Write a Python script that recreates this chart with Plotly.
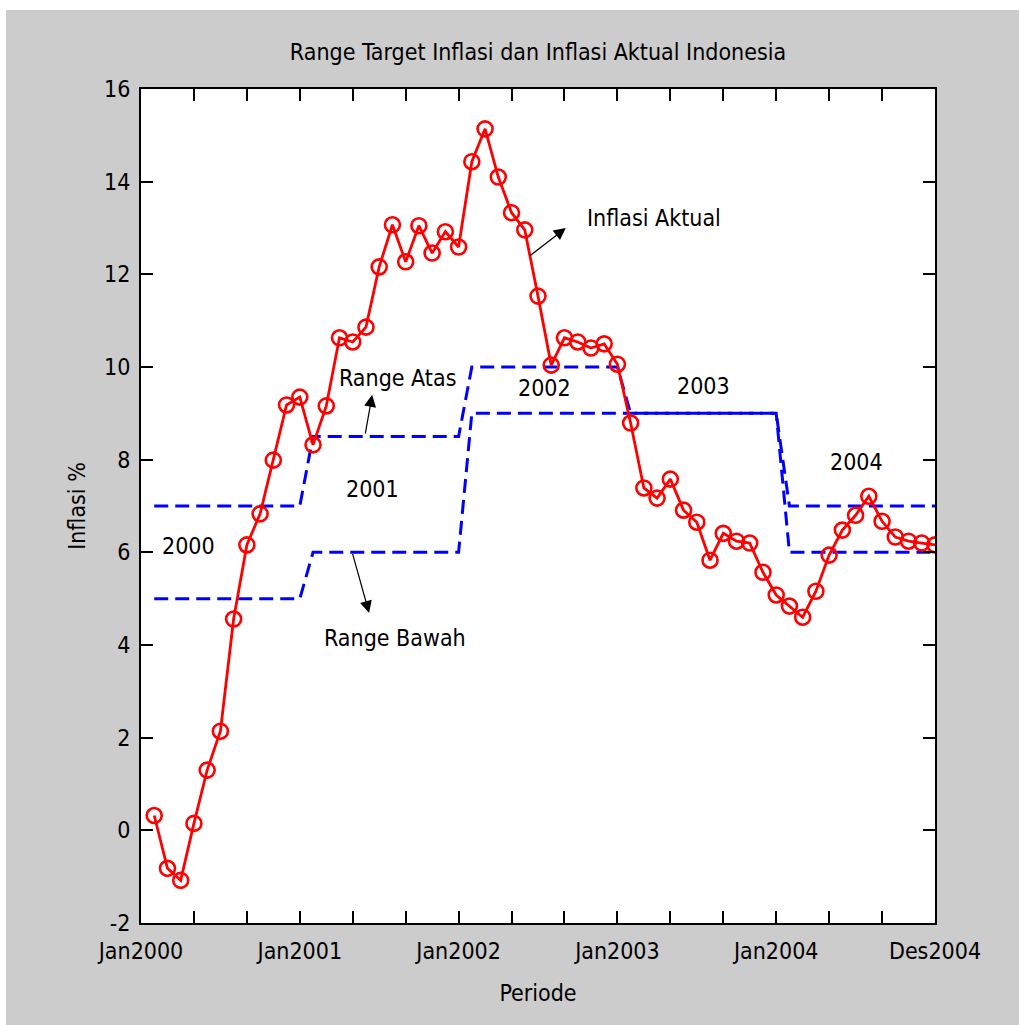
import plotly.graph_objects as go

# ---- data ----
bulan = list(range(1, 61))  # month index: Jan2000 = 1 ... Des2004 = 60
inflasi_aktual = [
    0.32, -0.82, -1.08, 0.15, 1.30, 2.14, 4.56, 6.16, 6.83, 7.99, 9.18, 9.35,
    8.32, 9.16, 10.63, 10.54, 10.86, 12.16, 13.07, 12.27, 13.05, 12.46, 12.92, 12.59,
    14.43, 15.14, 14.10, 13.33, 12.96, 11.53, 10.04, 10.63, 10.54, 10.41, 10.50, 10.06,
    8.79, 7.39, 7.17, 7.58, 6.91, 6.65, 5.83, 6.41, 6.24, 6.20, 5.57, 5.08,
    4.84, 4.60, 5.16, 5.94, 6.48, 6.80, 7.21, 6.67, 6.33, 6.24, 6.20, 6.16,
]
tahun = ["2000", "2001", "2002", "2003", "2004"]
range_atas_tahun = [7, 8.5, 10, 9, 7]
range_bawah_tahun = [5, 6, 9, 9, 6]
range_atas = [v for v in range_atas_tahun for _ in range(12)]
range_bawah = [v for v in range_bawah_tahun for _ in range(12)]

x_tickvals = list(range(0, 61, 4))
x_ticktext = ["Jan2000", "", "", "Jan2001", "", "", "Jan2002", "", "",
              "Jan2003", "", "", "Jan2004", "", "", "Des2004"]
y_tickvals = list(range(-2, 17, 2))
y_ticktext = ["-2", "0", "2", "4", "6", "8", "10", "12", "14", "16"]

# label positions (data coords)
tahun_label_x = [3.6, 17.5, 30.5, 42.5, 54.1]
tahun_label_y = [6.13, 7.37, 9.55, 9.59, 7.95]

FONT = "Liberation Sans Narrow, DejaVu Sans Condensed, Arial Narrow, sans-serif"
FS = 23
W, H = 1019, 1025
L, R, T, B = 141, 84, 89, 102

fig = go.Figure()
fig.add_trace(go.Scatter(x=bulan, y=range_atas, mode="lines",
                         line=dict(color="#0000ff", width=3, dash="14px,7px"),
                         name="Range Atas", showlegend=False))
fig.add_trace(go.Scatter(x=bulan, y=range_bawah, mode="lines",
                         line=dict(color="#0000ff", width=3, dash="14px,7px"),
                         name="Range Bawah", showlegend=False))
fig.add_trace(go.Scatter(x=bulan, y=inflasi_aktual, mode="lines+markers",
                         line=dict(color="#ff0000", width=2.8),
                         marker=dict(symbol="circle-open", size=15, color="#ff0000",
                                     line=dict(width=2.6, color="#ff0000")),
                         name="Inflasi Aktual", showlegend=False))

annotations = []
for t, xx, yy in zip(tahun, tahun_label_x, tahun_label_y):
    annotations.append(dict(x=xx, y=yy, text=t, showarrow=False,
                            font=dict(family=FONT, size=FS, color="black")))
# text labels
annotations.append(dict(x=38.8, y=13.22, text="Inflasi Aktual", showarrow=False,
                        font=dict(family=FONT, size=FS, color="black")))
annotations.append(dict(x=19.4, y=9.76, text="Range Atas", showarrow=False,
                        font=dict(family=FONT, size=FS, color="black")))
annotations.append(dict(x=19.2, y=4.15, text="Range Bawah", showarrow=False,
                        font=dict(family=FONT, size=FS, color="black")))
# arrows
arrows = [
    ((32.1, 13.0), (29.3, 12.38)),
    ((17.47, 9.40), (16.93, 8.53)),
    ((17.24, 4.69), (15.96, 6.0)),
]
for (hx, hy), (tx, ty) in arrows:
    annotations.append(dict(x=hx, y=hy, ax=tx, ay=ty, xref="x", yref="y",
                            axref="x", ayref="y", text="", showarrow=True,
                            arrowhead=2, arrowsize=2, arrowwidth=1.2,
                            arrowcolor="black"))

fig.update_layout(
    width=W, height=H,
    margin=dict(l=L, r=R, t=T, b=B),
    paper_bgcolor="#cccccc",
    plot_bgcolor="white",
    font=dict(family=FONT, size=FS, color="black"),
    title=dict(text="Range Target Inflasi dan Inflasi Aktual Indonesia",
               x=(L + (W - R)) / 2 / W, xanchor="center",
               y=1 - 52 / H, yanchor="middle",
               font=dict(family=FONT, size=FS, color="black")),
    annotations=annotations,
    shapes=[
        dict(type="rect", xref="paper", yref="paper",
             x0=-L / (W - L - R), x1=(-L + 6) / (W - L - R),
             y0=-B / (H - T - B), y1=(H - B) / (H - T - B),
             fillcolor="white", line=dict(width=0), layer="above"),
        dict(type="rect", xref="paper", yref="paper",
             x0=-L / (W - L - R), x1=(W - L) / (W - L - R),
             y0=(H - B - 10) / (H - T - B), y1=(H - B) / (H - T - B),
             fillcolor="white", line=dict(width=0), layer="above"),
    ],
)
fig.update_xaxes(range=[0, 60], tickvals=x_tickvals, ticktext=x_ticktext,
                 ticks="inside", ticklen=12, tickwidth=1.5, tickcolor="black",
                 showline=True, linecolor="black", linewidth=2, mirror="ticks",
                 showgrid=False, zeroline=False, ticklabelstandoff=6,
                 tickfont=dict(family=FONT, size=FS),
                 title=dict(text="Periode", font=dict(family=FONT, size=FS), standoff=22))
fig.update_yaxes(range=[-2, 16], tickvals=y_tickvals, ticktext=y_ticktext,
                 ticks="inside", ticklen=12, tickwidth=1.5, tickcolor="black",
                 showline=True, linecolor="black", linewidth=2, mirror="ticks",
                 showgrid=False, zeroline=False, ticklabelstandoff=4,
                 tickfont=dict(family=FONT, size=FS),
                 title=dict(text="Inflasi %", font=dict(family=FONT, size=FS), standoff=12))

fig.write_html("out.html", config={"displayModeBar": False},
               post_script="document.body.style.margin='0';document.body.style.overflow='hidden';")
